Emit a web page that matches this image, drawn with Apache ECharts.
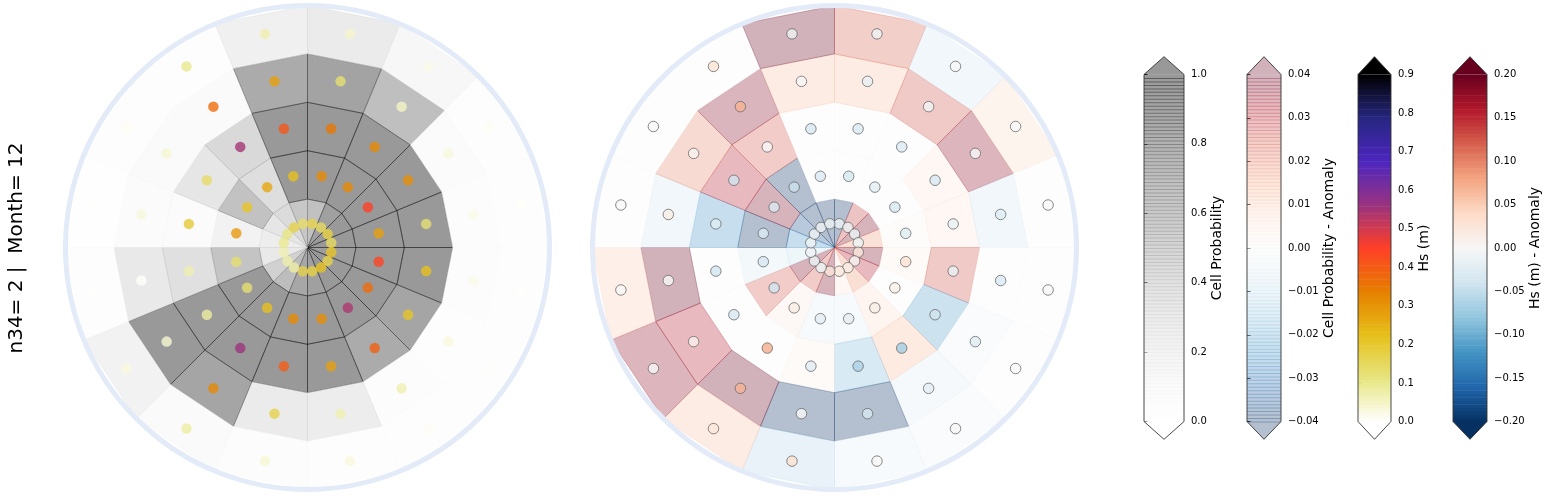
<!DOCTYPE html>
<html><head><meta charset="utf-8">
<script src="https://cdn.jsdelivr.net/npm/echarts@6/dist/echarts.min.js"></script>
<style>html,body{margin:0;padding:0;background:#fff}#c{width:1549px;height:496px}</style>
</head><body><div id="c"></div>
<script>
// ---------------- categories ----------------
// compass direction of each sector centre (deg, clockwise from north)
const SECTOR_ANGLES = [11.25, 33.75, 56.25, 78.75, 101.25, 123.75, 146.25, 168.75,
                       191.25, 213.75, 236.25, 258.75, 281.25, 303.75, 326.25, 348.75];
// radial position of each ring centre (ring index units)
const RING_CENTERS = [0.5, 1.5, 2.5, 3.5, 4.5];

// ---------------- left panel: cell probability (rings inner -> outer) ----------------
const probRing1 = [0.68, 0.94, 1.0, 1.0, 0.97, 1.0, 1.0, 0.94, 0.88, 0.72, 0.54, 0.32, 0.28, 0.36, 0.45, 0.62];
const probRing2 = [1.0, 1.0, 1.0, 1.0, 1.0, 1.0, 1.0, 1.0, 1.0, 1.0, 1.0, 0.65, 0.22, 0.67, 0.43, 1.0];
const probRing3 = [1.0, 1.0, 1.0, 1.0, 1.0, 0.9, 0.85, 1.0, 1.0, 1.0, 1.0, 0.41, 0.08, 0.36, 0.47, 1.0];
const probRing4 = [0.92, 0.7, 0.08, 0.06, 0.06, 0.04, 0.06, 0.28, 0.3, 0.9, 1.0, 0.32, 0.08, 0.1, 0.1, 0.85];
const probRing5 = [0.3, 0.15, 0.04, 0.03, 0.03, 0.03, 0.05, 0.04, 0.06, 0.1, 0.22, 0.04, 0.02, 0.03, 0.04, 0.25];

// ---------------- left panel: mean Hs (m) per cell ----------------
const hsRing1 = [0.17, 0.15, 0.18, 0.15, 0.21, 0.17, 0.22, 0.18, 0.17, 0.08, 0.075, 0.07, 0.1, 0.11, 0.17, 0.14];
const hsRing2 = [0.32, 0.32, 0.45, 0.28, 0.44, 0.37, 0.54, 0.31, 0.32, 0.22, 0.13, 0.13, 0.29, 0.21, 0.27, 0.22];
const hsRing3 = [0.35, 0.32, 0.31, 0.13, 0.22, 0.21, 0.39, 0.28, 0.40, 0.56, 0.08, 0.07, 0.19, 0.14, 0.55, 0.41];
const hsRing4 = [0.13, 0.05, 0.03, 0.02, 0.02, 0.03, 0.07, 0.07, 0.17, 0.32, 0.04, 0.005, 0.03, 0.04, 0.37, 0.28];
const hsRing5 = [0.045, 0.02, 0.01, 0.005, 0.005, 0.005, 0.01, 0.03, 0.04, 0.08, 0.03, 0.003, 0.003, 0.01, 0.1, 0.07];

// ---------------- right panel: cell probability anomaly ----------------
const anomRing1 = [-0.04, 0.028, 0.038, 0.017, 0.038, 0.032, 0.018, 0.005, 0.038, 0.025, 0.038, -0.009, -0.024, -0.036, -0.04, -0.04];
const anomRing2 = [0.0, 0.0, 0.0, 0.001, 0.003, 0.0, 0.007, -0.004, -0.004, 0.004, 0.025, -0.007, -0.04, 0.038, -0.04, 0.0];
const anomRing3 = [0.0, 0.0, 0.005, 0.005, 0.026, -0.022, 0.013, -0.018, 0.003, 0.0, 0.0, 0.0, -0.024, 0.032, 0.025, 0.0];
const anomRing4 = [0.012, 0.026, 0.036, -0.008, 0.0, -0.002, -0.005, -0.04, -0.04, 0.04, 0.032, 0.04, -0.008, 0.02, 0.037, 0.012];
const anomRing5 = [0.024, -0.008, 0.008, 0.0, 0.0, 0.0, -0.002, -0.004, -0.012, 0.012, 0.036, 0.01, 0.0, 0.0, 0.0, 0.04];

// ---------------- right panel: Hs anomaly (m) per cell ----------------
const hsAnomRing1 = [-0.012, -0.012, -0.012, -0.012, 0.025, 0.005, 0.015, 0.022, 0.025, -0.01, -0.012, -0.012, -0.012, -0.012, -0.012, -0.012];
const hsAnomRing2 = [-0.035, -0.022, -0.035, -0.025, 0.03, 0.015, 0.015, -0.02, -0.02, 0.015, -0.04, -0.035, -0.03, -0.03, -0.045, -0.03];
const hsAnomRing3 = [-0.03, -0.03, -0.035, -0.015, -0.015, -0.04, -0.07, -0.065, -0.025, 0.075, -0.035, -0.04, -0.025, -0.04, 0.0, -0.035];
const hsAnomRing4 = [-0.015, -0.005, 0.0, -0.025, -0.03, -0.025, -0.02, -0.035, 0.0, 0.07, 0.01, 0.0, 0.015, 0.005, 0.07, 0.0];
const hsAnomRing5 = [-0.01, 0.0, 0.0, 0.0, 0.0, 0.0, 0.0, 0.0, 0.03, 0.025, 0.0, 0.0, 0.0, 0.0, 0.03, -0.01];

// ---------------- colorbar tick labels ----------------
const probTicks = [0.0, 0.2, 0.4, 0.6, 0.8, 1.0];
const anomTicks = [-0.04, -0.03, -0.02, -0.01, 0.00, 0.01, 0.02, 0.03, 0.04];
const hsTicks = [0.0, 0.1, 0.2, 0.3, 0.4, 0.5, 0.6, 0.7, 0.8, 0.9];
const hsAnomTicks = [-0.20, -0.15, -0.10, -0.05, 0.00, 0.05, 0.10, 0.15, 0.20];

const panelTitle = 'n34= 2 |  Month= 12';

// ---------------- colormaps ----------------
const GREYS = ['#ffffff','#f0f0f0','#d9d9d9','#bdbdbd','#969696','#737373','#525252','#252525','#000000'];
const CMR_R = [[255,255,255],[229.5,229.5,127.5],[229.5,191.25,25.5],[229.5,127.5,0],[255,63.75,38.25],
               [153,51,127.5],[76.5,38.25,191.25],[38.25,38.25,127.5],[0,0,0]];
const RDBU_R = ['#053061','#2166ac','#4393c3','#92c5de','#d1e5f0','#f7f7f7','#fddbc7','#f4a582','#d6604d','#b2182b','#67001f'];
function hexToRgb(h){h=h.replace('#','');return [0,2,4].map(i=>parseInt(h.substr(i,2),16));}
function makeCmap(stops){
  const rgb = stops.map(s => typeof s === 'string' ? hexToRgb(s) : s);
  return function(t){
    t = Math.max(0, Math.min(1, t));
    const n = rgb.length - 1; const x = t * n; let i = Math.floor(x); if (i >= n) i = n - 1;
    const f = x - i;
    return [0,1,2].map(c => Math.round(rgb[i][c] + (rgb[i+1][c] - rgb[i][c]) * f));
  };
}
const greys = makeCmap(GREYS), cmr = makeCmap(CMR_R), rdbu = makeCmap(RDBU_R);
const first = a => a[0], last = a => a[a.length - 1];
const norm = (ticks) => v => (v - first(ticks)) / (last(ticks) - first(ticks));
const probCmap = t => greys(t), anomCmap = t => rdbu(t), hsCmap = t => cmr(t), hsAnomCmap = t => rdbu(t);
const probNorm = norm(probTicks), anomNorm = norm(anomTicks), hsNorm = norm(hsTicks), hsAnomNorm = norm(hsAnomTicks);
const rgba = (c, a) => `rgba(${c[0]},${c[1]},${c[2]},${a})`;

// ---------------- build data ----------------
function buildData(rings){
  const out = [];
  rings.forEach((arr, j) => arr.forEach((v, k) => out.push([RING_CENTERS[j], SECTOR_ANGLES[k], v])));
  return out;
}
const probData = buildData([probRing1, probRing2, probRing3, probRing4, probRing5]);
const hsData = buildData([hsRing1, hsRing2, hsRing3, hsRing4, hsRing5]);
const anomData = buildData([anomRing1, anomRing2, anomRing3, anomRing4, anomRing5]);
const hsAnomData = buildData([hsAnomRing1, hsAnomRing2, hsAnomRing3, hsAnomRing4, hsAnomRing5]);

const FONT = 'DejaVu Sans';
const RING_HALF = 0.5, SECTOR_HALF = 11.25;

function cellSeries(polarIndex, data, cmap, nrm, alpha){
  return {
    type: 'custom', coordinateSystem: 'polar', polarIndex, data, z: 2, silent: true,
    renderItem: (params, api) => {
      const r = api.value(0), a = api.value(1), v = api.value(2);
      const pts = [api.coord([r - RING_HALF, a - SECTOR_HALF]), api.coord([r + RING_HALF, a - SECTOR_HALF]),
                   api.coord([r + RING_HALF, a + SECTOR_HALF]), api.coord([r - RING_HALF, a + SECTOR_HALF])];
      const col = rgba(cmap(nrm(v)), alpha);
      return { type: 'polygon', shape: { points: pts }, style: { fill: col, stroke: col, lineWidth: 0.9 } };
    }
  };
}
function dotSeries(polarIndex, data, cmap, nrm, border){
  return {
    type: 'scatter', coordinateSystem: 'polar', polarIndex, data, z: 3, silent: true,
    symbol: 'circle', symbolSize: 10.5,
    itemStyle: Object.assign({ color: p => rgba(cmap(nrm(p.value[2])), 1) },
      border ? { borderColor: '#6b6b6b', borderWidth: 1 } : { borderWidth: 0 })
  };
}

// ---------------- colorbars ----------------
const CB_TOP = 74.5, CB_HEIGHT = 347, TRI = 17.8, NBANDS = 100;
const colorbars = [
  { left: 1144, width: 40, ticks: probTicks, cmap: probCmap, alpha: 0.4, name: 'Cell Probability', gap: 24, dec: 1 },
  { left: 1247, width: 34, ticks: anomTicks, cmap: anomCmap, alpha: 0.3, name: 'Cell Probability - Anomaly', gap: 38, dec: 2 },
  { left: 1358, width: 33, ticks: hsTicks, cmap: hsCmap, alpha: 1, name: 'Hs (m)', gap: 24, dec: 1 },
  { left: 1453, width: 34, ticks: hsAnomTicks, cmap: hsAnomCmap, alpha: 1, name: 'Hs (m) - Anomaly', gap: 38, dec: 2 }
];
const fmt = dec => v => { const s = Math.abs(v).toFixed(dec); return (v < 0 && parseFloat(s) !== 0 ? '\u2212' : '') + s; };

const grids = [], xAxes = [], yAxes = [], cbSeries = [];
colorbars.forEach((cb, i) => {
  const lo = first(cb.ticks), hi = last(cb.ticks);
  const step = +(cb.ticks[1] - cb.ticks[0]).toFixed(6);
  grids.push({ left: cb.left, top: CB_TOP, width: cb.width, height: CB_HEIGHT });
  xAxes.push({ gridIndex: i, type: 'value', min: 0, max: 1, show: false });
  yAxes.push({
    gridIndex: i, type: 'value', position: 'right', min: lo, max: hi, interval: step,
    axisLine: { show: false }, splitLine: { show: false },
    axisTick: { show: true, inside: false, length: 3.5, lineStyle: { color: '#000', width: 0.8 } },
    axisLabel: { margin: 7, fontSize: 10, color: '#000', fontFamily: FONT, formatter: fmt(cb.dec) },
    name: cb.name, nameLocation: 'middle', nameGap: cb.gap, nameRotate: 90,
    nameTextStyle: { fontSize: 14, color: '#000', fontFamily: FONT }
  });
  const data = Array.from({ length: NBANDS + 3 }, () => [0, lo]);
  cbSeries.push({
    type: 'custom', coordinateSystem: 'cartesian2d', xAxisIndex: i, yAxisIndex: i, data, clip: false, silent: true, z: 2,
    renderItem: (params, api) => {
      const k = params.dataIndex;
      const tl = api.coord([0, hi]), br = api.coord([1, lo]);
      const x0 = tl[0], x1 = br[0], yT = tl[1], yB = br[1], xm = (x0 + x1) / 2;
      if (k < NBANDS) {
        const v0 = lo + (hi - lo) * k / NBANDS, v1 = lo + (hi - lo) * (k + 1) / NBANDS;
        const p0 = api.coord([0, v1]), p1 = api.coord([1, v0]);
        const col = rgba(cb.cmap((k + 0.5) / NBANDS), cb.alpha);
        return { type: 'rect', shape: { x: p0[0], y: p0[1], width: p1[0] - p0[0], height: p1[1] - p0[1] + (cb.alpha < 1 ? 1.0 : 0.5) },
                 style: { fill: col } };
      }
      if (k === NBANDS) return { type: 'polygon', shape: { points: [[x0, yT], [x1, yT], [xm, yT - TRI]] }, style: { fill: rgba(cb.cmap(1), cb.alpha) } };
      if (k === NBANDS + 1) return { type: 'polygon', shape: { points: [[x0, yB], [x1, yB], [xm, yB + TRI]] }, style: { fill: rgba(cb.cmap(0), cb.alpha) } };
      return { type: 'polygon', z2: 10, shape: { points: [[x0, yT], [xm, yT - TRI], [x1, yT], [x1, yB], [xm, yB + TRI], [x0, yB]] },
               style: { fill: 'none', stroke: '#333', lineWidth: 0.9 } };
    }
  });
});

// ---------------- polar panels ----------------
const SPINE = '#e3ebf8';
const polarAngle = idx => ({ polarIndex: idx, type: 'value', min: 0, max: 360, startAngle: 90, clockwise: true, z: 10,
  axisLine: { show: true, lineStyle: { color: SPINE, width: 5 } }, axisTick: { show: false }, axisLabel: { show: false },
  splitLine: { show: false } });
const polarRadius = idx => ({ polarIndex: idx, type: 'value', min: 0, max: RING_CENTERS.length, show: false });

const chart = echarts.init(document.getElementById('c'), null, { renderer: 'canvas' });
chart.setOption({
  animation: false,
  backgroundColor: '#ffffff',
  polar: [ { center: [307.5, 247.5], radius: 242 }, { center: [834.5, 247.5], radius: 242 } ],
  angleAxis: [polarAngle(0), polarAngle(1)],
  radiusAxis: [polarRadius(0), polarRadius(1)],
  grid: grids, xAxis: xAxes, yAxis: yAxes,
  graphic: [{ type: 'text', x: 17, y: 248, rotation: Math.PI / 2,
    style: { text: panelTitle, fontSize: 20, fontFamily: FONT, fill: '#000', align: 'center', verticalAlign: 'middle' } }],
  series: [
    cellSeries(0, probData, probCmap, probNorm, 0.4),
    dotSeries(0, hsData, hsCmap, hsNorm, false),
    cellSeries(1, anomData, anomCmap, anomNorm, 0.3),
    dotSeries(1, hsAnomData, hsAnomCmap, hsAnomNorm, true)
  ].concat(cbSeries)
});
</script></body></html>
